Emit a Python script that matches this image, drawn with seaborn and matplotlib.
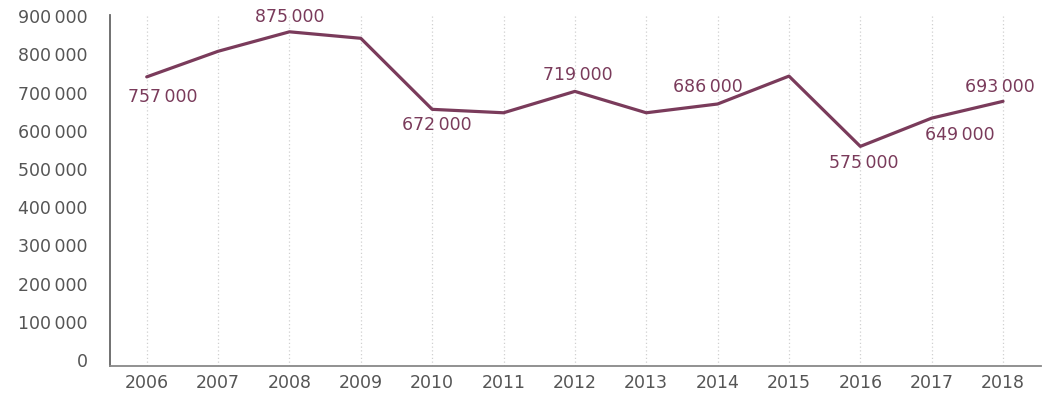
import matplotlib
matplotlib.use("Agg")
import matplotlib.pyplot as plt
import matplotlib.transforms as mtransforms
import seaborn as sns
import pandas as pd

# Values
years = [2006, 2007, 2008, 2009, 2010, 2011, 2012, 2013, 2014, 2015, 2016, 2017, 2018]
values = [757000, 824000, 875000, 858000, 672000, 663000, 719000, 663000, 686000, 759000, 575000, 649000, 693000]
labelled_years = [2006, 2008, 2010, 2012, 2014, 2016, 2017, 2018]
y_ticks = [0, 100000, 200000, 300000, 400000, 500000, 600000, 700000, 800000, 900000]

# label offsets in pixels (dx, dy)
label_offsets = {2006: (16, -20), 2008: (0, 15), 2010: (5, -16), 2012: (3, 16),
                 2014: (-10, 17), 2016: (3, -17), 2017: (28, -17), 2018: (-3, 14)}

df = pd.DataFrame({"year": years, "value": values})

sns.set_theme(style="white")
plt.rcParams["font.family"] = ["DejaVu Sans"]

line_color = "#7a3b5b"

fig = plt.figure(figsize=(10.44, 4), dpi=100)
ax = fig.add_axes([0.105, 0.085, 0.892, 0.8775])

sns.lineplot(data=df, x="year", y="value", color=line_color, linewidth=2.3, ax=ax)


def fmt(v):
    return f"{v:,}".replace(",", "\u2009")


for yr in labelled_years:
    v = values[years.index(yr)]
    dx, dy = label_offsets[yr]
    ax.annotate(fmt(v), (yr, v), xytext=(dx, dy), textcoords="offset pixels",
                ha="center", va="center", fontsize=12.5, color=line_color)

ax.set_xlim(2005.48, 2018.53)
ax.set_ylim(0, 919000)
ax.set_xticks(years)
ax.set_xticklabels([str(y) for y in years])
ax.set_yticks(y_ticks)
ax.set_yticklabels([fmt(v) for v in y_ticks])
ax.tick_params(axis="both", length=0, labelsize=12.5, labelcolor="#555555")
ax.tick_params(axis="x", pad=6)
ax.tick_params(axis="y", pad=16)
ax.set_xlabel("")
ax.set_ylabel("")

# y tick labels sit a little above their value in the original
shift = mtransforms.ScaledTranslation(0, 6 / 100, fig.dpi_scale_trans)
for lbl in ax.get_yticklabels():
    lbl.set_transform(lbl.get_transform() + shift)

for yr in years:
    ax.axvline(yr, color="#d0d0d0", linestyle=(0, (1, 2)), linewidth=0.9, zorder=0)

for side in ["top", "right"]:
    ax.spines[side].set_visible(False)
ax.spines["left"].set_color("#666666")
ax.spines["left"].set_linewidth(1.3)
ax.spines["bottom"].set_color("#888888")
ax.spines["bottom"].set_linewidth(1.3)

fig.savefig("out.png", dpi=100)
